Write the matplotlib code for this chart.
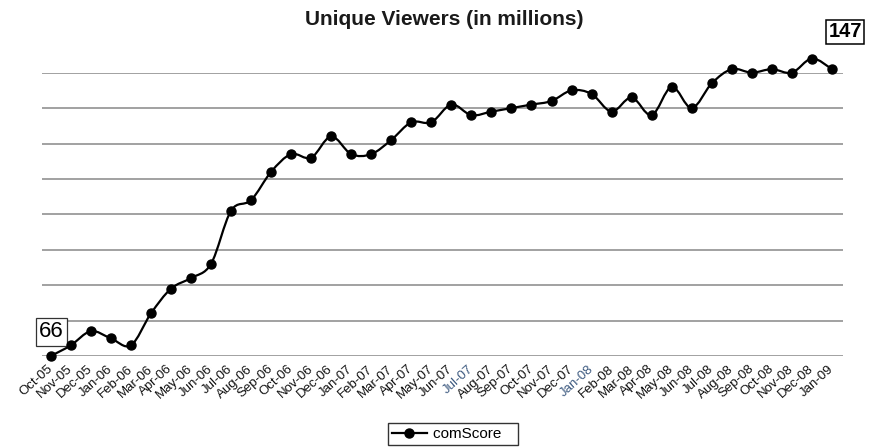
import numpy as np
import matplotlib.pyplot as plt
import matplotlib.transforms as mtransforms
from matplotlib.path import Path
from matplotlib.patches import PathPatch
from matplotlib.lines import Line2D

months = ['Oct-05', 'Nov-05', 'Dec-05', 'Jan-06', 'Feb-06', 'Mar-06', 'Apr-06', 'May-06',
          'Jun-06', 'Jul-06', 'Aug-06', 'Sep-06', 'Oct-06', 'Nov-06', 'Dec-06', 'Jan-07',
          'Feb-07', 'Mar-07', 'Apr-07', 'May-07', 'Jun-07', 'Jul-07', 'Aug-07', 'Sep-07',
          'Oct-07', 'Nov-07', 'Dec-07', 'Jan-08', 'Feb-08', 'Mar-08', 'Apr-08', 'May-08',
          'Jun-08', 'Jul-08', 'Aug-08', 'Sep-08', 'Oct-08', 'Nov-08', 'Dec-08', 'Jan-09']
viewers = [66, 69, 73, 71, 69, 78, 85, 88, 92, 107, 110, 118, 123, 122, 128, 123,
           123, 127, 132, 132, 137, 134, 135, 136, 137, 138, 141, 140, 135, 139, 134, 142,
           136, 143, 147, 146, 147, 146, 150, 147]
blue_labels = ['Jul-07', 'Jan-08']

plt.rcParams['font.family'] = ['Liberation Sans', 'DejaVu Sans']

fig = plt.figure(figsize=(8.73, 4.47), dpi=100)
ax = fig.add_axes([0.0478, 0.2036, 0.9178, 0.6338])

x = np.arange(len(viewers))
y = np.array(viewers, dtype=float)

# smoothed line (Catmull-Rom -> cubic bezier), like the spreadsheet's smooth line
verts = [(x[0], y[0])]
codes = [Path.MOVETO]
for i in range(len(x) - 1):
    p0 = (x[i - 1], y[i - 1]) if i > 0 else (x[i], y[i])
    p1 = (x[i], y[i])
    p2 = (x[i + 1], y[i + 1])
    p3 = (x[i + 2], y[i + 2]) if i + 2 < len(x) else p2
    c1 = (p1[0] + (p2[0] - p0[0]) / 6, p1[1] + (p2[1] - p0[1]) / 6)
    c2 = (p2[0] - (p3[0] - p1[0]) / 6, p2[1] - (p3[1] - p1[1]) / 6)
    verts += [c1, c2, p2]
    codes += [Path.CURVE4] * 3
ax.add_patch(PathPatch(Path(verts, codes), facecolor='none', edgecolor='black',
                       lw=1.6, clip_on=False, zorder=3))
ax.plot(x, y, ls='none', marker='o', ms=6.5, color='black', clip_on=False, zorder=4)

ax.set_xlim(-0.45, len(x) - 0.45)
ax.set_ylim(66, 146)
ax.set_yticks(np.arange(66, 147, 10))
ax.yaxis.grid(True, color='#9a9a9a', lw=1.3)
ax.set_axisbelow(True)
ax.tick_params(axis='y', left=False, labelleft=False)
for s in ax.spines.values():
    s.set_visible(False)

ax.set_xticks(x)
ax.set_xticklabels(months, rotation=42, ha='right', va='top', rotation_mode='anchor',
                   fontsize=9.5, color='#111111')
ax.tick_params(axis='x', length=0, pad=5)
shift = mtransforms.ScaledTranslation(-4 / 100, 0, fig.dpi_scale_trans)
for lbl in ax.get_xticklabels():
    lbl.set_transform(lbl.get_transform() + shift)
    if lbl.get_text() in blue_labels:
        lbl.set_color('#3d5a80')

fig.text(0.5086, 0.957, 'Unique Viewers (in millions)', ha='center', va='center',
         fontsize=15, fontweight='bold', color='#1a1a1a')

ax.annotate(str(viewers[0]), xy=(x[0], y[0]), xytext=(0.5, 17.5), textcoords='offset points',
            ha='center', va='center', fontsize=16, annotation_clip=False,
            bbox=dict(boxstyle='square,pad=0.16', fc='white', ec='#333333', lw=0.9))
ax.annotate(str(viewers[-1]), xy=(x[-1], y[-1]), xytext=(9.5, 27), textcoords='offset points',
            ha='center', va='center', fontsize=14.5, fontweight='bold', annotation_clip=False,
            bbox=dict(boxstyle='square,pad=0.12', fc='white', ec='black', lw=1.1))

handle = Line2D([], [], color='black', lw=1.6, marker='o', ms=6.5)
fig.legend([handle], ['comScore'], loc='center', bbox_to_anchor=(0.519, 0.029),
           frameon=True, fancybox=False, edgecolor='black', fontsize=11,
           handlelength=2.3, borderpad=0.25, handletextpad=0.4, borderaxespad=0,
           columnspacing=0)
leg = fig.legends[0]
leg.get_texts()[0].set_text('comScore   ')

fig.savefig('out.png', dpi=100)
